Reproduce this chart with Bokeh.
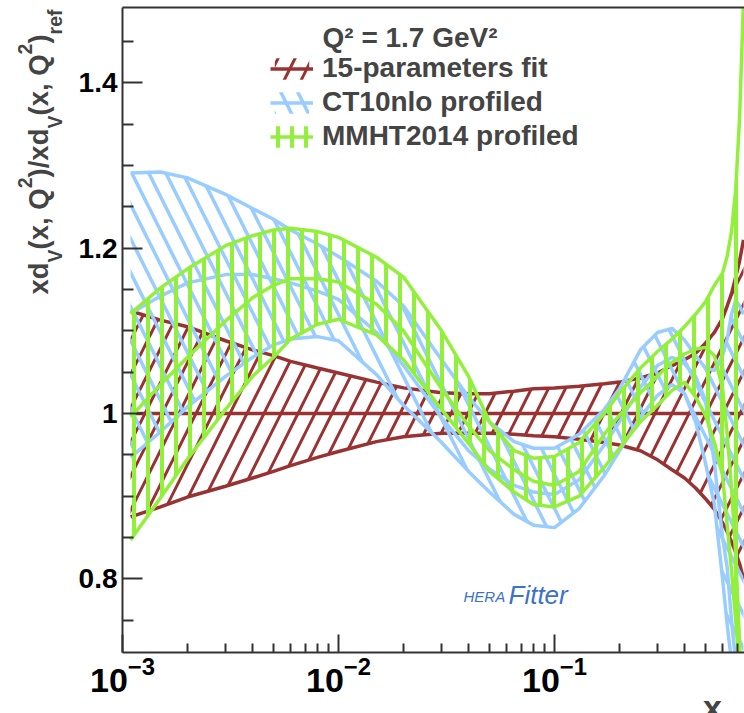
import math
from bokeh.plotting import figure
from bokeh.layouts import row, column
from bokeh.models import (Range1d, FixedTicker, Label, Legend, LegendItem, LogAxis,
                          CustomJSTickFormatter)
from bokeh.embed import file_html
from bokeh.resources import INLINE

# ---------------- data ----------------
x = [0.00109, 0.0015, 0.002, 0.003, 0.004, 0.005, 0.006, 0.008, 0.01, 0.015, 0.02,
     0.03, 0.04, 0.05, 0.065, 0.08, 0.1, 0.13, 0.17, 0.2, 0.25, 0.3, 0.35, 0.4,
     0.45, 0.5, 0.55, 0.6, 0.63, 0.66, 0.69, 0.72, 0.75]

fit15_hi = [1.124, 1.113, 1.105, 1.088, 1.077, 1.070, 1.063, 1.055, 1.049, 1.038, 1.031,
            1.025, 1.024, 1.024, 1.027, 1.030, 1.031, 1.033, 1.036, 1.038, 1.043, 1.049,
            1.058, 1.065, 1.073, 1.085, 1.098, 1.115, 1.130, 1.145, 1.165, 1.185, 1.210]
fit15_mid = [1.0] * len(x)
fit15_lo = [0.875, 0.887, 0.899, 0.912, 0.922, 0.930, 0.937, 0.947, 0.954, 0.966, 0.972,
            0.976, 0.976, 0.976, 0.975, 0.973, 0.972, 0.969, 0.965, 0.962, 0.955, 0.944,
            0.932, 0.922, 0.910, 0.897, 0.884, 0.868, 0.857, 0.845, 0.832, 0.818, 0.800]

ct10_hi = [1.291, 1.292, 1.285, 1.265, 1.248, 1.235, 1.222, 1.205, 1.190, 1.160, 1.130,
           1.065, 1.020, 0.990, 0.966, 0.958, 0.958, 0.975, 1.005, 1.030, 1.077, 1.098,
           1.103, 1.089, 1.070, 1.055, 1.052, 1.070, 1.090, 1.120, 1.137, 1.130, 1.120]
ct10_mid = [1.121, 1.142, 1.158, 1.168, 1.168, 1.163, 1.158, 1.148, 1.138, 1.098, 1.058,
            0.995, 0.955, 0.933, 0.913, 0.905, 0.902, 0.920, 0.962, 0.990, 1.032, 1.058,
            1.068, 1.060, 1.045, 1.016, 0.940, 0.850, 0.814, 0.750, 0.700, 0.640, 0.580]
ct10_lo = [0.947, 0.978, 1.008, 1.045, 1.068, 1.083, 1.090, 1.093, 1.088, 1.047, 1.010,
           0.965, 0.930, 0.905, 0.878, 0.865, 0.862, 0.885, 0.925, 0.955, 0.996, 1.022,
           1.035, 1.024, 0.990, 0.940, 0.890, 0.800, 0.745, 0.700, 0.650, 0.600, 0.550]

mmht_hi = [1.121, 1.152, 1.175, 1.203, 1.215, 1.222, 1.224, 1.220, 1.213, 1.189, 1.165,
           1.100, 1.045, 0.990, 0.955, 0.946, 0.948, 0.965, 1.000, 1.025, 1.055, 1.075,
           1.090, 1.105, 1.120, 1.135, 1.155, 1.170, 1.190, 1.220, 1.270, 1.360, 1.500]
mmht_mid = [0.996, 1.035, 1.068, 1.112, 1.140, 1.155, 1.163, 1.163, 1.159, 1.132, 1.100,
            1.030, 0.985, 0.955, 0.932, 0.918, 0.913, 0.930, 0.975, 0.998, 1.025, 1.045,
            1.062, 1.072, 1.078, 1.080, 1.070, 1.030, 0.976, 0.910, 0.830, 0.720, 0.600]
mmht_lo = [0.847, 0.898, 0.945, 1.005, 1.045, 1.068, 1.090, 1.108, 1.114, 1.095, 1.065,
           1.005, 0.964, 0.930, 0.905, 0.890, 0.887, 0.900, 0.935, 0.958, 0.990, 1.010,
           1.028, 1.038, 1.020, 0.998, 0.965, 0.925, 0.865, 0.810, 0.750, 0.690, 0.640]

labels = ["15-parameters fit", "CT10nlo profiled", "MMHT2014 profiled"]
title_text = "Q\u00b2 = 1.7 GeV\u00b2"
y_ticks = [0.8, 1.0, 1.2, 1.4]
y_minor = [0.75, 0.85, 0.9, 0.95, 1.05, 1.1, 1.15, 1.25, 1.3, 1.35, 1.45]
x_ticks = [1e-3, 1e-2, 1e-1]
x_minor = [m * d for d in (1e-3, 1e-2, 1e-1) for m in range(2, 10)]

# ---------------- style / layout ----------------
RED, BLUE, GREEN = "#993333", "#99ccff", "#92f03c"
FONT = "Liberation Sans"
PAGE_W, PAGE_H = 744, 713
YT_W = 70                 # width of the strip holding the y-axis title
MAIN_H = 700              # height of the main figure
FRAME_L, FRAME_T, FRAME_B = 122, 7, 652   # page px of the main frame


def fx(px):
    return px - FRAME_L


def fy(py):
    return FRAME_B - py


def mid(baseline, size):
    """vertical centre of a text box whose baseline is at `baseline`"""
    return baseline - 0.35 * size


p = figure(width=PAGE_W - YT_W, height=MAIN_H, x_axis_type="log",
           x_range=Range1d(1e-3, 0.758), y_range=Range1d(0.711, 1.491),
           output_backend="svg", toolbar_location=None,
           min_border_left=FRAME_L - YT_W, min_border_right=0, min_border_top=FRAME_T,
           min_border_bottom=MAIN_H - FRAME_B)
p.xgrid.visible = False
p.ygrid.visible = False
p.outline_line_color = None
p.background_fill_color = "white"
p.border_fill_color = "white"


def band(lo, mid_, hi, color, pattern, scale, weight):
    a = p.varea(x=x, y1=lo, y2=hi, fill_color=None, hatch_pattern=pattern,
                hatch_color=color, hatch_scale=scale, hatch_weight=weight)
    p.line(x, lo, line_color=color, line_width=3.5)
    p.line(x, hi, line_color=color, line_width=3.5)
    m = p.line(x, mid_, line_color=color, line_width=3.5)
    return a, m

r_a, r_m = band(fit15_lo, fit15_mid, fit15_hi, RED, "/", 34, 3)
b_a, b_m = band(ct10_lo, ct10_mid, ct10_hi, BLUE, "\\", 34, 3.5)
g_a, g_m = band(mmht_lo, mmht_mid, mmht_hi, GREEN, "|", 14, 4)

# axes
ya = p.yaxis[0]
ya.ticker = FixedTicker(ticks=y_ticks, minor_ticks=y_minor)
ya.formatter = CustomJSTickFormatter(code="return String(Math.round(tick*10)/10)")
xa = p.xaxis[0]
xa.ticker = FixedTicker(ticks=x_ticks, minor_ticks=x_minor)
for ax in (xa, ya):
    ax.axis_line_color = "#333333"
    ax.axis_line_width = 2
    ax.major_tick_line_color = "#333333"
    ax.minor_tick_line_color = "#333333"
    ax.major_tick_line_width = 2
    ax.minor_tick_line_width = 2
    ax.major_tick_out = 0
    ax.minor_tick_out = 0
    ax.major_label_text_font = FONT
    ax.major_label_text_font_style = "bold"
    ax.major_label_text_color = "black"
ya.major_tick_in = 20
ya.minor_tick_in = 11
ya.major_label_text_font_size = "28px"
ya.major_label_standoff = 5
xa.major_tick_in = 18
xa.minor_tick_in = 9
xa.major_label_text_font_size = "34px"
xa.major_label_standoff = 4

top = LogAxis(ticker=FixedTicker(ticks=[]), axis_line_color="#333333", axis_line_width=2,
              major_tick_line_color=None, minor_tick_line_color=None,
              major_label_text_font_size="0px", major_label_standoff=0)
p.add_layout(top, "above")

# legend
leg = Legend(items=[LegendItem(label=labels[0], renderers=[r_a, r_m]),
                    LegendItem(label=labels[1], renderers=[b_a, b_m]),
                    LegendItem(label=labels[2], renderers=[g_a, g_m])],
             location=(fx(270), fy(152)), padding=0, margin=0, spacing=2,
             glyph_width=43, glyph_height=27, label_height=27, label_standoff=9,
             label_text_font=FONT, label_text_font_style="bold",
             label_text_font_size="28px", border_line_color=None,
             background_fill_alpha=0)
p.add_layout(leg)
p.add_layout(Label(x=fx(322), y=fy(mid(47, 28)), x_units="screen", y_units="screen",
                   text=title_text, text_font=FONT, text_font_style="bold",
                   text_font_size="28px", text_baseline="middle"))

# HERAFitter logo (text)
p.add_layout(Label(x=fx(463), y=fy(mid(601, 15)), x_units="screen", y_units="screen",
                   text="HERA", text_font=FONT, text_font_style="italic",
                   text_font_size="15px", text_baseline="middle", text_color="#3d72c6"))
p.add_layout(Label(x=fx(508), y=fy(mid(604, 26)), x_units="screen", y_units="screen",
                   text="Fitter", text_font=FONT, text_font_style="italic",
                   text_font_size="26px", text_baseline="middle", text_color="#3d72c6"))

# ---------------- y-axis title strip (frame is aligned with the main frame) ----------------
yt = figure(width=YT_W, height=MAIN_H, x_range=Range1d(0, 1), y_range=Range1d(0, 1),
            x_axis_location=None, y_axis_location=None, output_backend="svg",
            toolbar_location=None, min_border=0)
yt.outline_line_color = None
yt.xgrid.visible = False
yt.ygrid.visible = False

AW = {"x": 556, "d": 611, "(": 333, ")": 333, ",": 278, " ": 278, "Q": 778,
      "/": 278, "V": 667, "2": 556, "r": 389, "e": 556, "f": 333}
pieces = [("xd", 0), ("V", 1), ("(x, Q", 0), ("2", 2), (")/xd", 0), ("V", 1),
          ("(x, Q", 0), ("2", 2), (")", 0), ("ref", 1)]
MAIN, SMALL = 27.5, 19.5
BASELINES = {0: 48, 1: 61, 2: 31}      # page x of each kind's baseline
cursor = 294
for txt, kind in pieces:
    size = MAIN if kind == 0 else SMALL
    sx = BASELINES[kind] - 0.35 * size
    yt.add_layout(Label(x=sx, y=FRAME_B - cursor, x_units="screen", y_units="screen",
                        text=txt, angle=math.pi / 2, text_align="left",
                        text_baseline="middle", text_font=FONT,
                        text_font_style="bold", text_font_size=f"{size}px"))
    cursor -= sum(AW[c] for c in txt) * size / 1000.0

# ---------------- x-axis title strip ----------------
XL_H = PAGE_H - MAIN_H
xl = figure(width=PAGE_W, height=XL_H, x_range=Range1d(0, 1), y_range=Range1d(0, 1),
            x_axis_location=None, y_axis_location=None, output_backend="svg",
            toolbar_location=None, min_border=0)
xl.outline_line_color = None
xl.xgrid.visible = False
xl.ygrid.visible = False
xl.add_layout(Label(x=712, y=PAGE_H - mid(718, 34), x_units="screen", y_units="screen",
                    text="x", text_align="center", text_baseline="middle", text_font=FONT,
                    text_font_style="bold", text_font_size="34px"))

layout = column(row(yt, p), xl)
open("out.html", "w").write(file_html(layout, INLINE))
